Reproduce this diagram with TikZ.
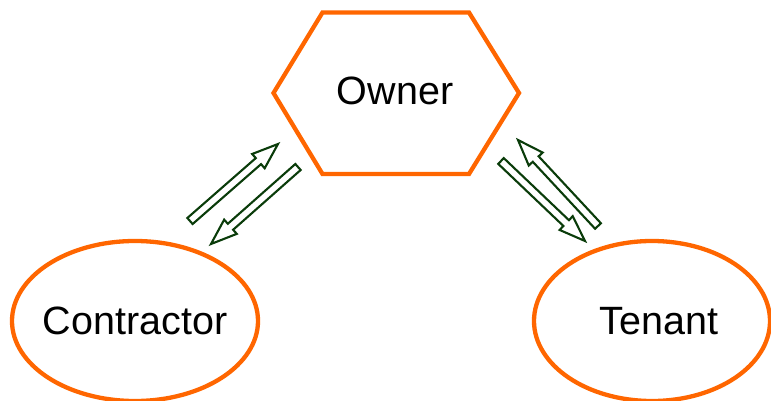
\documentclass[tikz,border=0pt]{standalone}
\usepackage{fontspec}
\setmainfont{Liberation Sans}
\usetikzlibrary{calc,shapes.geometric}
\definecolor{rorange}{RGB}{255,102,0}
\definecolor{rgreen}{RGB}{10,60,10}
\tikzset{
  shapeline/.style={draw=rorange,line width=4.3pt},
  lbl/.style={font=\fontsize{39.5}{46}\selectfont,text=black},
  oval/.style={shapeline,ellipse,lbl,minimum width=246pt,minimum height=160pt,inner sep=0pt},
  blockarrow/.style={draw=rgreen,line width=2.1pt,fill=white,line join=miter},
}
\newcommand{\blockarr}[2]{%
  \draw[blockarrow]
    ($(#1)!4pt!90:(#2)$) --
    ($($(#2)!26pt!(#1)$)!4pt!-90:(#1)$) --
    ($($(#2)!26pt!(#1)$)!9.5pt!-90:(#1)$) --
    (#2) --
    ($($(#2)!26pt!(#1)$)!9.5pt!90:(#1)$) --
    ($($(#2)!26pt!(#1)$)!4pt!90:(#1)$) --
    ($(#1)!4pt!-90:(#2)$) -- cycle;}
\begin{document}
\begin{tikzpicture}[x=1pt,y=-1pt]
\useasboundingbox (0,0) rectangle (771,401);
% Owner hexagon
\coordinate (h1) at (322.5,12.5);
\coordinate (h2) at (469,12.5);
\coordinate (h3) at (519,93);
\coordinate (h4) at (469,174);
\coordinate (h5) at (322.5,174);
\coordinate (h6) at (273.5,93);
\draw[shapeline,line join=miter] (h1) -- (h2) -- (h3) -- (h4) -- (h5) -- (h6) -- cycle;
\node[lbl] (owner) at (395,91) {Owner};
% ellipses
\node[oval] (contractor) at (135,321) {\makebox[0pt]{Contractor}};
\node[oval,minimum width=236pt] (tenant) at (652,321) {\makebox[0pt]{\hspace*{14pt}Tenant}};
% arrow ends
\coordinate (l1a) at (190,221); \coordinate (l1b) at (278,144);
\coordinate (l2a) at (298,167); \coordinate (l2b) at (211,244);
\coordinate (r1a) at (598,226); \coordinate (r1b) at (518,140);
\coordinate (r2a) at (501,161); \coordinate (r2b) at (585,241);
\blockarr{l1a}{l1b}
\blockarr{l2a}{l2b}
\blockarr{r1a}{r1b}
\blockarr{r2a}{r2b}
\end{tikzpicture}
\end{document}
